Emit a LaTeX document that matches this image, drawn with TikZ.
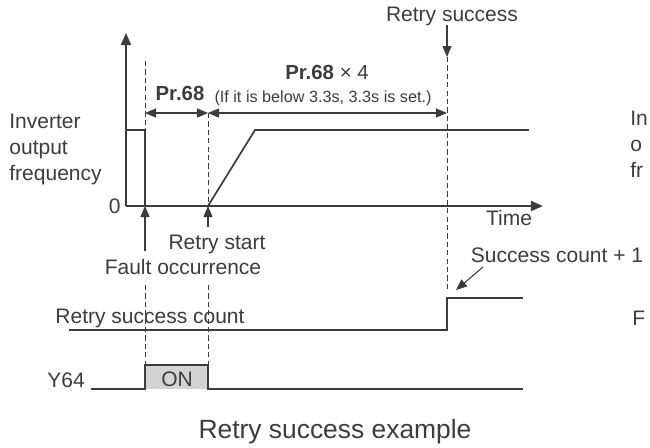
\documentclass[tikz,border=0pt]{standalone}
\usepackage{fontspec}
\setmainfont{Liberation Sans}
\usetikzlibrary{arrows.meta,positioning,calc}
\definecolor{inkgray}{HTML}{3C3C3C}
\definecolor{ongray}{HTML}{D3D3D3}
\tikzset{
  sig/.style={line width=0.85pt, draw=inkgray},
  axis/.style={line width=0.85pt, draw=inkgray, -{Triangle[length=6pt,width=5pt]}},
  guide/.style={line width=0.45pt, draw=inkgray, dash pattern=on 2.6pt off 1.6pt},
  tip/.style={line width=0.55pt, draw=inkgray, -{Triangle[length=5.5pt,width=4.5pt]}},
  dim/.style={line width=0.55pt, draw=inkgray,
    {Triangle[length=5.5pt,width=4.5pt]}-{Triangle[length=5.5pt,width=4.5pt]}},
  lbl/.style={font=\fontsize{10.5}{13}\selectfont, text=inkgray, inner sep=0pt},
  prlbl/.style={font=\fontsize{10.2}{12}\selectfont, text=inkgray, inner sep=0pt},
  notelbl/.style={font=\fontsize{8.1}{10}\selectfont, text=inkgray, inner sep=0pt},
  titlelbl/.style={font=\fontsize{13.2}{16}\selectfont, text=inkgray, inner sep=0pt}
}
\begin{document}
\begin{tikzpicture}[x=0.5pt,y=-0.5pt]
  \clip (0,0) rectangle (650,447);
  % key instants on the frequency axis
  \coordinate (origin) at (126,206);
  \coordinate (fault)  at (145,206);
  \coordinate (start)  at (208,206);
  \coordinate (succ)   at (447,206);

  % axes
  \draw[axis] (origin) -- (126,33);
  \draw[axis] (origin) -- (543,206);
  \node[lbl, anchor=east] (zero) at (121,206) {0};
  \node[lbl] (timelbl) at (509,218) {Time};
  \node[lbl, align=left, anchor=north west] (freqlbl) at (9,114)
    {Inverter\\output\\frequency};

  % inverter output frequency
  \draw[sig] (126,130) -- (145,130) -- (fault);
  \draw[sig] (start) -- (255,130) -- (529,130);

  % guides
  \draw[guide] (145,61)  -- (145,130);
  \draw[guide] (208,113) -- (start);
  \draw[guide] (447,57)  -- (447,290);
  \draw[guide] (145,285) -- (145,365);
  \draw[guide] (208,285) -- (208,365);

  % intervals
  \draw[dim] (145,113) -- (208,113);
  \draw[dim] (208,113) -- (447,113);
  \node[prlbl, anchor=base] (pr68) at (180,100) {\textbf{Pr.68}};
  \node[prlbl, anchor=base] (pr68x) at (327,79) {\textbf{Pr.68} × 4};
  \node[notelbl, anchor=base] (note) at (323,102)
    {(If it is below 3.3s, 3.3s is set.)};

  % events
  \node[lbl, anchor=base] (succlbl) at (452,21) {Retry success};
  \draw[tip] (447,25) -- (447,57);
  \node[lbl, anchor=base] (startlbl) at (217,249) {Retry start};
  \draw[tip] (208,227) -- (start);
  \node[lbl, anchor=base] (faultlbl) at (183,274) {Fault occurrence};
  \draw[tip] (145,251) -- (fault);

  % retry success count
  \node[lbl, anchor=base] (countlbl) at (150,323) {Retry success count};
  \draw[sig] (69,330) -- (447,330) -- (447,298) -- (523,298);
  \node[lbl, anchor=base] (pluslbl) at (557,262) {Success count + 1};
  \draw[tip] (483,267) -- (456,290);

  % Y64 signal
  \fill[ongray] (145,365) rectangle (208,389);
  \draw[sig] (91,389) -- (145,389) -- (145,365) -- (208,365) -- (208,389) -- (523,389);
  \node[lbl, anchor=base] (onlbl) at (177,386) {ON};
  \node[lbl, anchor=base] (y64lbl) at (66,387) {Y64};

  % caption
  \node[titlelbl, anchor=base] (title) at (335,438) {Retry success example};

  % labels of the next picture, at the right edge
  \node[lbl, align=left, anchor=north west] (nextfreq) at (630,111) {In\\o\\fr};
  \node[lbl, anchor=base west] (nextf) at (632,325) {F};
\end{tikzpicture}
\end{document}
